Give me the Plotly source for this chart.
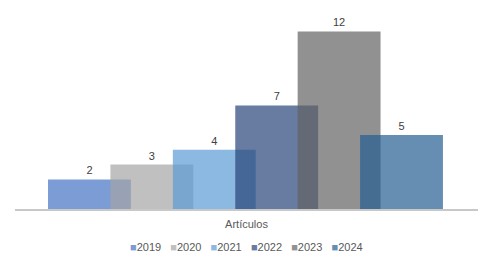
import plotly.graph_objects as go

categories = ["Artículos"]
years = ["2019", "2020", "2021", "2022", "2023", "2024"]
values = [2, 3, 4, 7, 12, 5]
colors = ["#4472C4", "#A5A5A5", "#5B9BD5", "#264478", "#636363", "#255E91"]
alpha = 0.7

bar_width = 0.179
first_offset = -0.4287
step = 0.1348


def rgba(hex_color, a):
    h = hex_color.lstrip("#")
    r, g, b = int(h[0:2], 16), int(h[2:4], 16), int(h[4:6], 16)
    return f"rgba({r},{g},{b},{a})"


def blend(hex_color, a):
    h = hex_color.lstrip("#")
    rgb = [int(h[i:i + 2], 16) for i in (0, 2, 4)]
    out = [round(a * c + (1 - a) * 255) for c in rgb]
    return "#%02x%02x%02x" % tuple(out)


fig = go.Figure()
for i, (yr, v, c) in enumerate(zip(years, values, colors)):
    fig.add_trace(go.Bar(
        x=categories,
        y=[v],
        name=yr,
        width=bar_width,
        offset=first_offset + i * step,
        marker=dict(color=rgba(c, alpha), line=dict(width=0)),
        text=[str(v)],
        textposition="outside",
        textfont=dict(color="#404040", size=11),
        cliponaxis=False,
        showlegend=False,
    ))

gap = "\u00a0\u00a0\u00a0"
legend_text = gap.join(
    f'<span style="color:{blend(c, alpha)}">■</span>{yr}' for yr, c in zip(years, colors)
)
fig.add_annotation(
    text=legend_text, xref="paper", yref="paper", x=0.5, y=-0.191,
    xanchor="center", yanchor="middle", showarrow=False,
    font=dict(size=11, color="#595959"),
)

fig.update_layout(
    width=492, height=265,
    margin=dict(l=15, r=14, t=10, b=56),
    barmode="overlay",
    paper_bgcolor="white", plot_bgcolor="white",
    font=dict(family="Liberation Sans, Arial, sans-serif", size=11, color="#595959"),
)
fig.update_xaxes(
    type="category", range=[-0.5, 0.5],
    showline=True, linecolor="#c8c8c8", linewidth=2,
    showgrid=False, ticks="outside", ticklen=4, tickcolor="rgba(0,0,0,0)",
    tickfont=dict(size=11, color="#595959"),
)
fig.update_yaxes(range=[0, 13.45], visible=False, showgrid=False)

fig.write_html("out.html", config={"displayModeBar": False},
               post_script="document.body.style.margin='0';")
